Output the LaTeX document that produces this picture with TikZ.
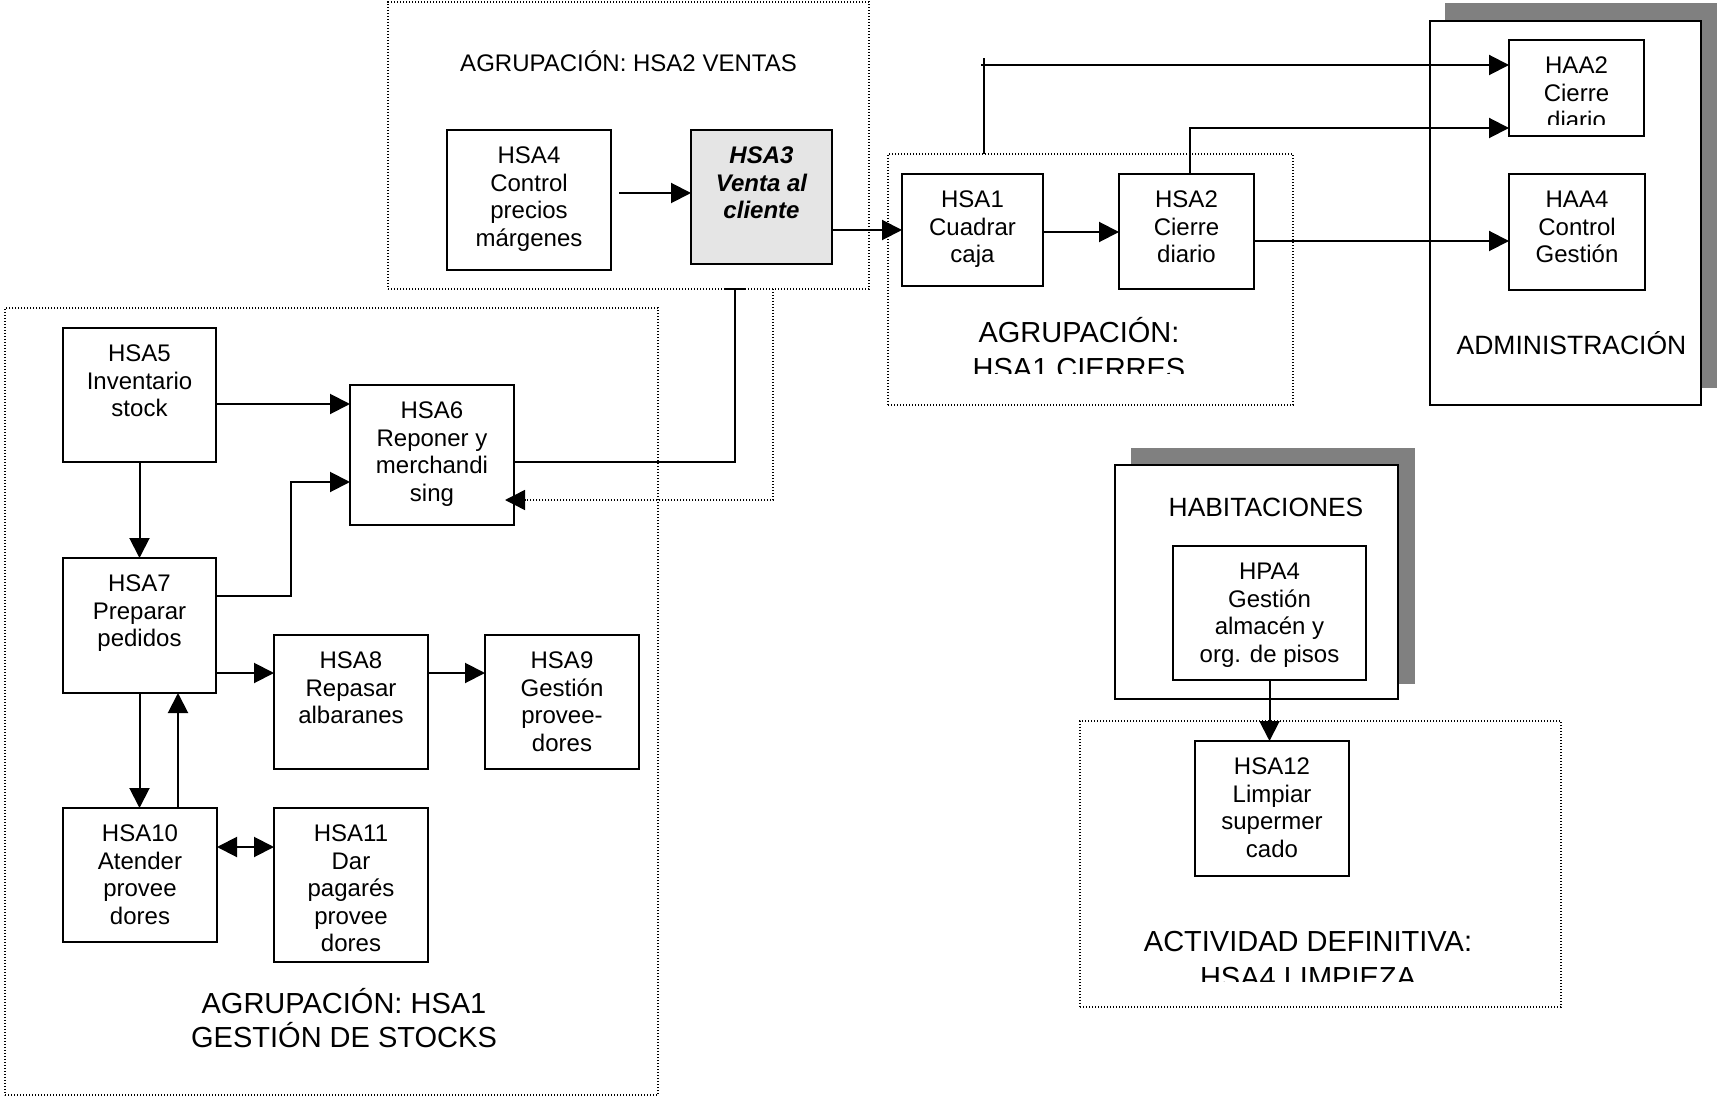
\documentclass[tikz,border=0pt]{standalone}
\usepackage{fontspec}
\setmainfont{Liberation Sans}
\usetikzlibrary{arrows.meta}

\tikzset{
  actframe/.style={draw, line width=2pt, inner sep=0pt, outer sep=0pt},
  acttext/.style={anchor=north, align=center, inner sep=0pt,
    font=\fontsize{24}{27.5}\selectfont},
  groupframe/.style={draw, line width=1.4pt, dash pattern=on 1.4pt off 1.6pt,
    inner sep=0pt, outer sep=0pt},
  areaframe/.style={draw, fill=white, line width=2pt, inner sep=0pt, outer sep=0pt},
  areashadow/.style={fill=black!50, draw=none},
  flow/.style={line width=2pt, -{Triangle[length=20pt,width=20pt]}},
  twoway/.style={line width=2pt, {Triangle[length=20pt,width=20pt]}-{Triangle[length=20pt,width=20pt]}},
  backflow/.style={line width=1.4pt, dash pattern=on 1.4pt off 1.6pt,
    -{Triangle[length=20pt,width=20pt]}},
  link/.style={line width=2pt},
  grouptitle/.style={anchor=base, inner sep=0pt, font=\fontsize{29}{33}\selectfont},
}

% activity box: name, left, top, right, bottom, frame style, text style, text
\newcommand\actbox[8]{%
  \node[actframe,#6,minimum width={(#4)-(#2)},minimum height={(#5)-(#3)}]
    (#1) at ({((#2)+(#4))/2},{((#3)+(#5))/2}) {};
  \node[acttext,#7] (#1-text) at ([yshift=-17pt]#1.north) {#8};
}
% frame of a group: name, left, top, right, bottom, style
\newcommand\grpbox[6]{%
  \node[#6,minimum width={(#4)-(#2)},minimum height={(#5)-(#3)}]
    (#1) at ({((#2)+(#4))/2},{((#3)+(#5))/2}) {};
}

\begin{document}
\begin{tikzpicture}[x=1pt,y=-1pt]
\useasboundingbox (0,0) rectangle (1717,1099);

% ---- areas with shadow
\fill[areashadow] (1445,3) rectangle (1717,388);
\grpbox{admin}{1430}{21}{1701}{405}{areaframe}
\fill[areashadow] (1131,448) rectangle (1415,684);
\grpbox{habit}{1115}{465}{1398}{699}{areaframe}

% ---- groups
\grpbox{ventas}{388}{2}{869}{289}{groupframe}
\grpbox{cierres}{888}{154}{1293}{405}{groupframe}
\grpbox{stocks}{5}{308}{658}{1095}{groupframe}
\grpbox{limpieza}{1080}{721}{1561}{1007}{groupframe}

% ---- group titles
\node[grouptitle, font=\fontsize{24}{28}\selectfont] (ventas-title) at (628.5,72) {AGRUPACIÓN: HSA2 VENTAS};
\node[grouptitle] (cierres-t1) at (1079,343) {AGRUPACIÓN:};
\begin{scope}
  \clip (890,352) rectangle (1291,374);
  \node[grouptitle] (cierres-t2) at (1079,378) {HSA1 CIERRES};
\end{scope}
\node[grouptitle] (stocks-t1) at (344,1013) {AGRUPACIÓN: HSA1};
\node[grouptitle] (stocks-t2) at (344,1047) {GESTIÓN DE STOCKS};
\node[grouptitle, font=\fontsize{26.5}{30}\selectfont] (admin-title) at (1571.5,355) {ADMINISTRACIÓN};
\node[grouptitle, font=\fontsize{26.4}{30}\selectfont] (habit-title) at (1266,516) {HABITACIONES};
\node[grouptitle] (limpieza-t1) at (1308,951) {ACTIVIDAD DEFINITIVA:};
\begin{scope}
  \clip (1082,958) rectangle (1559,981);
  \node[grouptitle] (limpieza-t2) at (1308,987) {HSA4 LIMPIEZA};
\end{scope}

% ---- activities
\actbox{hsa4}{447}{130}{611}{270}{}{}{HSA4\\Control\\precios\\márgenes}
\actbox{hsa3}{691}{130}{832}{264}{fill=black!10}{font=\fontsize{24}{27.5}\selectfont\bfseries\itshape}{HSA3\\Venta al\\cliente}
\actbox{hsa1}{902}{174}{1043}{286}{}{}{HSA1\\Cuadrar\\caja}
\actbox{hsa2}{1119}{174}{1254}{289}{}{}{HSA2\\Cierre\\diario}
\node[actframe,minimum width=135pt,minimum height=96pt] (haa2) at (1576.5,88) {};
\begin{scope}
  \clip (1511,42) rectangle (1642,125);
  \node[acttext] (haa2-text) at ([yshift=-17pt]haa2.north) {HAA2\\Cierre\\diario};
\end{scope}
\actbox{haa4}{1509}{174}{1645}{290}{}{}{HAA4\\Control\\Gestión}
\actbox{hsa5}{63}{328}{216}{462}{}{}{HSA5\\Inventario\\stock}
\actbox{hsa6}{350}{385}{514}{525}{}{}{HSA6\\Reponer y\\merchandi\\sing}
\actbox{hsa7}{63}{558}{216}{693}{}{}{HSA7\\Preparar\\pedidos}
\actbox{hsa8}{274}{635}{428}{769}{}{}{HSA8\\Repasar\\albaranes}
\actbox{hsa9}{485}{635}{639}{769}{}{}{HSA9\\Gestión\\provee-\\dores}
\actbox{hsa10}{63}{808}{217}{942}{}{}{HSA10\\Atender\\provee\\dores}
\actbox{hsa11}{274}{808}{428}{962}{}{}{HSA11\\Dar\\pagarés\\provee\\dores}
\actbox{hpa4}{1173}{546}{1366}{680}{}{}{HPA4\\Gestión\\almacén y\\org. de pisos}
\actbox{hsa12}{1195}{741}{1349}{876}{}{}{HSA12\\Limpiar\\supermer\\cado}

% ---- sales and closing flows
\draw[flow] ([xshift=8pt,yshift=7pt]hsa4.east) coordinate (c1) -- (c1 -| hsa3.west);
\draw[flow] ([yshift=-33pt]hsa3.east) coordinate (c2) -- (c2 -| hsa1.west);
\draw[flow] ([yshift=-2pt]hsa1.east) coordinate (c3) -- (c3 -| hsa2.west);
\draw[flow] ([yshift=-9.5pt]hsa2.east) coordinate (c4) -- (c4 -| haa4.west);
\coordinate (c5) at ([xshift=-106.5pt]cierres.north);
\draw[link] (c5) -- ++(0,-96);
\coordinate (h2in1) at ([yshift=23pt]haa2.west);
\draw[flow] (h2in1 -| c5) ++(-3,0) -- (h2in1);
\coordinate (h2in2) at ([yshift=-40pt]haa2.west);
\draw[flow] ([xshift=3.5pt]hsa2.north) |- (h2in2);

% ---- stock flows
\draw[flow] ([yshift=-9pt]hsa5.east) coordinate (c7) -- (c7 -| hsa6.west);
\draw[flow] (hsa5.south) -- (hsa5.south |- hsa7.north);
\coordinate (h6in) at ([yshift=-27pt]hsa6.west);
\draw[flow] ([yshift=29.5pt]hsa7.east) -- ++(75,0) |- (h6in);
\draw[flow] ([yshift=-47.5pt]hsa7.east) coordinate (c10) -- (c10 -| hsa8.west);
\draw[flow] ([yshift=29pt]hsa8.east) coordinate (c11) -- (c11 -| hsa9.west);
\draw[flow] (hsa7.south) -- (hsa7.south |- hsa10.north);
\draw[flow] ([xshift=38pt]hsa10.north) coordinate (c13) -- (c13 |- hsa7.south);
\draw[twoway] ([yshift=28pt]hsa10.east) coordinate (c14) -- (c14 -| hsa11.west);

% ---- link between replenishment and sales
\coordinate (v6) at ([xshift=106.5pt]ventas.south);
\draw[link] ([yshift=-7pt]hsa6.east) -| (v6);
\draw[link] ([xshift=-10pt]v6) -- ([xshift=10pt]v6);
\coordinate (v6b) at ([xshift=144.5pt]ventas.south);
\draw[backflow, shorten >=-9pt] (v6b) |- ([yshift=-45pt]hsa6.east);

% ---- rooms to cleaning
\draw[flow] (hpa4.south) -- (hpa4.south |- hsa12.north);
\end{tikzpicture}
\end{document}
